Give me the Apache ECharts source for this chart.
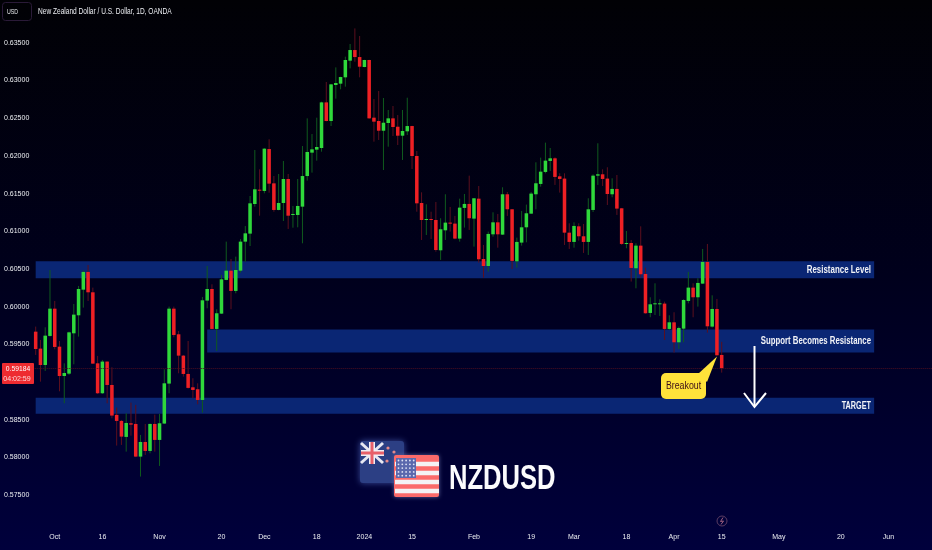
<!DOCTYPE html>
<html>
<head>
<meta charset="utf-8">
<title>NZDUSD</title>
<script src="https://cdn.jsdelivr.net/npm/echarts@6/dist/echarts.min.js"></script>
<style>
  html, body { margin: 0; padding: 0; background: #000; }
  #chart { width: 932px; height: 550px; }
</style>
</head>
<body>
<div id="chart"></div>
<script>
// open, close, low, high
var candles = [
  [.59669,.59439,.59360,.59736],[.59444,.59227,.59006,.59559],[.59227,.59616,.59148,.59727],[.59612,.59974,.59603,.60487],
  [.59974,.59466,.59435,.60076],[.5947,.59081,.58878,.59545],[.59081,.59121,.58719,.59249],[.59112,.5966,.59095,.59669],
  [.59647,.59895,.59236,.60036],[.59886,.60235,.59603,.60275],[.60226,.60461,.59988,.60478],[.60461,.60191,.60076,.60553],
  [.60191,.59245,.5924,.60253],[.59249,.58852,.58843,.59347],[.58852,.59272,.58843,.59294],[.59272,.58962,.58719,.59275],
  [.58962,.58556,.5852,.59197],[.58565,.58485,.58158,.58662],[.58485,.58277,.58167,.58498],[.58273,.58458,.58078,.58587],
  [.58454,.58436,.5829,.58728],[.58445,.58012,.58005,.58697],[.58012,.58206,.57747,.58299],[.58206,.58087,.58034,.58445],
  [.58087,.58445,.58056,.5845],[.58445,.58233,.58078,.58569],[.58233,.58454,.57888,.58578],[.5845,.58984,.58445,.5917],
  [.5898,.59974,.58852,.60001],[.59974,.59625,.59594,.60001],[.59634,.59351,.59117,.59678],[.59351,.59108,.59073,.5936],
  [.59108,.58923,.58914,.59545],[.58931,.58896,.58785,.59051],[.58905,.58763,.58706,.58984],[.58763,.60085,.58595,.60129],
  [.60081,.60235,.59979,.6054],[.60235,.59705,.597,.60297],[.59705,.59913,.59413,.59966],[.59908,.60363,.59903,.60421],
  [.60355,.60478,.6035,.60863],[.60478,.60209,.59966,.60633],[.60209,.60487,.60178,.60664],[.60478,.60863,.60452,.60898],
  [.60863,.60973,.60597,.6107],[.60969,.61371,.60805,.61468],[.61362,.61557,.61327,.62078],[.61552,.61539,.61207,.61822],
  [.61535,.62096,.61504,.62102],[.62091,.61632,.61512,.6222],[.61636,.61283,.6126,.61733],[.61283,.61375,.61278,.6176],
  [.61375,.61694,.61137,.61932],[.61694,.61207,.61031,.6176],[.61216,.6123,.61048,.61336],[.61216,.61336,.61053,.61694],
  [.61327,.61733,.60841,.62131],[.61733,.62052,.61672,.62498],[.62043,.62087,.61778,.6229],[.62083,.62118,.61937,.62507],
  [.62105,.6271,.62056,.62719],[.6271,.62463,.62458,.6298],[.62463,.62949,.62396,.62955],[.6294,.62967,.62759,.63174],
  [.62958,.63046,.62883,.6305],[.63042,.63272,.62918,.63316],[.63263,.63404,.63161,.63484],[.63404,.63311,.63249,.63691],
  [.63311,.63183,.63042,.6359],[.63179,.63272,.63175,.63275],[.63272,.62498,.62493,.63275],[.62507,.62454,.62189,.62754],
  [.62463,.62334,.62211,.62861],[.62334,.6244,.61813,.62768],[.62436,.62498,.62122,.62609],[.62498,.62383,.62264,.62662],
  [.62387,.62268,.62144,.62542],[.62268,.6233,.61946,.62609],[.62326,.62396,.62277,.62772],[.62396,.61999,.61826,.624],
  [.61999,.61371,.6126,.62065],[.61375,.6115,.60885,.61517],[.6115,.61163,.60951,.61358],[.61163,.6115,.60898,.6126],
  [.6115,.60752,.6073,.61389],[.60748,.61027,.6062,.61173],[.61013,.61115,.60885,.61491],[.61115,.61102,.60996,.61323],
  [.61102,.60903,.60894,.61204],[.60903,.61314,.60863,.61433],[.6131,.61363,.61049,.61495],[.61363,.61173,.61018,.61738],
  [.61168,.61438,.60797,.61442],[.61433,.60629,.60584,.61601],[.60633,.6054,.60386,.60819],[.6054,.60965,.60465,.60996],
  [.6096,.61119,.60929,.61252],[.61119,.6096,.60783,.6123],[.60956,.61491,.60951,.61584],[.61491,.61292,.61204,.61522],
  [.61292,.60607,.605,.61296],[.60602,.60859,.60518,.60916],[.6085,.61053,.6081,.6127],[.61053,.61239,.60854,.61354],
  [.61234,.615,.6123,.61522],[.61491,.61637,.61292,.61915],[.61628,.61791,.61592,.61977],[.61787,.61937,.61769,.62176],
  [.61933,.61968,.618,.62105],[.61968,.61721,.61615,.61981],[.61729,.61694,.61513,.61769],[.61699,.60982,.60819,.61769],
  [.60982,.60859,.60766,.61106],[.60859,.61071,.60783,.61119],[.61066,.60934,.60876,.61106],[.60934,.60859,.60713,.61097],
  [.60859,.61292,.60686,.61438],[.61283,.61738,.61256,.61756],[.61738,.61756,.61615,.62167],[.61756,.61694,.61601,.61822],
  [.61699,.61495,.61349,.61849],[.61491,.61562,.61451,.61703],[.61562,.61301,.61217,.61747],[.61305,.60832,.60819,.6131],
  [.60832,.60845,.60775,.61004],[.60845,.60514,.60333,.60885],[.6051,.6081,.60244,.60841],[.6081,.6043,.60386,.61066],
  [.60434,.59913,.59908,.60518],[.59917,.60032,.5986,.60125],[.60032,.60045,.5989,.6031],[.60032,.60045,.59877,.60098],
  [.60041,.59705,.59559,.60067],[.59705,.59793,.59692,.59886],[.59793,.59528,.59391,.59926],[.59528,.59718,.59439,.59736],
  [.59709,.60089,.59528,.60098],[.60076,.60253,.60045,.60461],[.60253,.60125,.5986,.6031],[.60125,.60315,.60001,.60377],
  [.60306,.60593,.60302,.60766],[.60593,.5974,.59656,.60832],[.59736,.5997,.59723,.60151],[.5997,.59356,.5935,.60103],
  [.5936,.59184,.59126,.59533]
];
var lastPrice = 0.59184;

// price zones: name, first candle date, top, bottom
var zoneNames = ['Resistance Level', 'Support Becomes Resistance', 'TARGET'];
var zoneStart = ['2023-09-26', '2023-11-15', '2023-09-26'];
var zoneEnd = '2024-05-29';
var zoneTop = [0.60604, 0.59698, 0.58793];
var zoneBottom = [0.60378, 0.59393, 0.58581];

var tickDates = ['2023-10-02', '2023-10-16', '2023-11-01', '2023-11-20', '2023-12-01', '2023-12-18', '2024-01-01', '2024-01-15', '2024-02-01',
  '2024-02-19', '2024-03-01', '2024-03-18', '2024-04-01', '2024-04-15', '2024-05-01', '2024-05-20', '2024-06-03'];
var tickTexts = ['Oct', '16', 'Nov', '20', 'Dec', '18', '2024', '15', 'Feb', '19', 'Mar', '18', 'Apr', '15', 'May', '20', 'Jun'];

// weekdays only, axis runs on past the last candle
var days = [];
for (var t = Date.UTC(2023, 8, 26); days.length < 189; t += 86400000) {
  var wd = new Date(t).getUTCDay();
  if (wd != 0 && wd != 6) days.push(new Date(t).toISOString().slice(0, 10));
}

var sans = '"Liberation Sans", sans-serif';
var GREEN = '#2fd83b', RED = '#ee2024', GREEN_WICK = '#0f5a1e', RED_WICK = '#5c0f1e';
var BAND = '#0a2674', LABEL = '#eceef2';

function drawCandle(params, api) {
  var i = api.value(0);
  var o = api.coord([i, api.value(1)]);
  var c = api.coord([i, api.value(2)]);
  var lo = api.coord([i, api.value(3)]);
  var hi = api.coord([i, api.value(4)]);
  var up = api.value(2) >= api.value(1);
  var w = api.size([1, 0])[0] * 0.74;
  var top = Math.min(o[1], c[1]);
  var h = Math.max(Math.abs(o[1] - c[1]), 1);
  return {
    type: 'group',
    children: [
      { type: 'line', shape: { x1: o[0], y1: hi[1], x2: o[0], y2: lo[1] }, style: { stroke: up ? GREEN_WICK : RED_WICK, lineWidth: 1 } },
      { type: 'rect', shape: { x: o[0] - w / 2, y: top, width: w, height: h }, style: { fill: up ? GREEN : RED } }
    ]
  };
}

var zoneAreas = zoneNames.map(function (name, i) {
  return [
    { xAxis: zoneStart[i], yAxis: zoneTop[i] },
    { xAxis: zoneEnd, yAxis: zoneBottom[i] }
  ];
});

// the original uses a condensed face, none is installed so squeeze the text instead
function narrowText(x, y, text, size, squeeze, align, color, weight) {
  return {
    type: 'text', x: x, y: y, scaleX: squeeze, z: 24,
    style: { x: 0, y: 0, text: text, fill: color, align: align, verticalAlign: 'middle', font: (weight || 'normal') + ' ' + size + 'px ' + sans }
  };
}

// flags are decoration, not data
function flagGraphics() {
  var els = [];
  els.push({ type: 'rect', shape: { x: 360, y: 441, width: 44, height: 42, r: 3 }, style: { fill: '#2c3f84', shadowBlur: 6, shadowColor: '#3a4c99' }, z: 20 });
  els.push({ type: 'polyline', shape: { points: [[361, 443], [383, 463]] }, style: { stroke: '#e8e8f2', lineWidth: 3 }, z: 20 });
  els.push({ type: 'polyline', shape: { points: [[383, 443], [361, 463]] }, style: { stroke: '#e8e8f2', lineWidth: 3 }, z: 20 });
  els.push({ type: 'rect', shape: { x: 369, y: 442, width: 6, height: 22 }, style: { fill: '#f0eef4' }, z: 20 });
  els.push({ type: 'rect', shape: { x: 361, y: 450, width: 23, height: 6 }, style: { fill: '#f0eef4' }, z: 20 });
  els.push({ type: 'rect', shape: { x: 370.5, y: 442, width: 3, height: 22 }, style: { fill: '#e8606a' }, z: 20 });
  els.push({ type: 'rect', shape: { x: 361, y: 451.5, width: 23, height: 3 }, style: { fill: '#e8606a' }, z: 20 });
  [[394, 452], [387, 461], [388, 448]].forEach(function (p) {
    els.push({ type: 'circle', shape: { cx: p[0], cy: p[1], r: 1.6 }, style: { fill: '#e88a8a' }, z: 20 });
  });
  els.push({ type: 'rect', shape: { x: 394, y: 455, width: 45, height: 42, r: 2 }, style: { fill: '#fb6a6a', shadowBlur: 4, shadowColor: '#5a5f96' }, z: 21 });
  for (var k = 0; k < 4; k++) {
    els.push({ type: 'rect', shape: { x: 395, y: 461.7 + k * 9, width: 44, height: 4.6 }, style: { fill: '#f4f2f4' }, z: 21 });
  }
  els.push({ type: 'rect', shape: { x: 396, y: 458, width: 20, height: 20 }, style: { fill: '#5b68ad' }, z: 22 });
  for (var a = 0; a < 5; a++) {
    for (var b = 0; b < 5; b++) {
      els.push({ type: 'circle', shape: { cx: 398.5 + b * 3.8, cy: 460.5 + a * 3.8, r: 0.9 }, style: { fill: '#dfe2f4' }, z: 22 });
    }
  }
  return els;
}

var chart = echarts.init(document.getElementById('chart'));
chart.setOption({
  animation: false,
  backgroundColor: {
    type: 'linear', x: 0, y: 0, x2: 0, y2: 1,
    colorStops: [{ offset: 0, color: '#010105' }, { offset: 0.5, color: '#00001c' }, { offset: 1, color: '#00003c' }]
  },
  grid: { left: 33.3, top: 5.1, width: 900.4, height: 527.8, outerBoundsMode: 'none' },
  xAxis: {
    type: 'category',
    data: days,
    axisLine: { show: false },
    axisTick: { show: false },
    splitLine: { show: false },
    axisLabel: {
      interval: function (i, v) { return tickDates.indexOf(v) >= 0; },
      formatter: function (v) { return tickTexts[tickDates.indexOf(v)]; },
      color: LABEL, fontFamily: sans, fontSize: 7, margin: 1
    }
  },
  yAxis: {
    type: 'value',
    min: 0.57, max: 0.64, interval: 0.005,
    axisLine: { show: false },
    axisTick: { show: false },
    splitLine: { show: false },
    axisLabel: {
      showMinLabel: false, showMaxLabel: false,
      formatter: function (v) { return v.toFixed(5); },
      color: LABEL, fontFamily: sans, fontSize: 7, margin: 4
    }
  },
  series: [
    {
      type: 'line',
      data: [],
      silent: true,
      z: 1,
      markArea: { silent: true, itemStyle: { color: BAND }, data: zoneAreas },
      markLine: {
        silent: true,
        symbol: 'none',
        precision: 5,
        label: { show: false },
        lineStyle: { color: '#4a0e20', type: 'dotted', width: 1 },
        data: [{ yAxis: lastPrice }]
      }
    },
    {
      type: 'custom',
      z: 3,
      silent: true,
      clip: false,
      renderItem: drawCandle,
      encode: { x: 0, y: [1, 2, 3, 4] },
      data: candles.map(function (c, i) { return [i].concat(c); })
    }
  ],
  graphic: [
    { type: 'rect', shape: { x: 2.5, y: 2.5, width: 29, height: 18, r: 3 }, style: { fill: 'transparent', stroke: '#2a1a38', lineWidth: 1 }, z: 10 },
    narrowText(7, 11.5, 'USD', 8, 0.65, 'left', LABEL),
    narrowText(38, 11.5, 'New Zealand Dollar / U.S. Dollar, 1D, OANDA', 9, 0.73, 'left', LABEL),

    { type: 'rect', shape: { x: 2, y: 363, width: 32, height: 21, r: 1 }, style: { fill: '#ee2b30' }, z: 10 },
    narrowText(18, 369, '0.59184', 8, 0.84, 'center', '#ffffff'),
    narrowText(17, 378.5, '04:02:59', 8, 0.88, 'center', '#fbd9da'),

    { type: 'polygon', shape: { points: [[698, 374], [707, 382], [717, 356.5]] }, style: { fill: '#ffe23a' }, z: 10 },
    { type: 'rect', shape: { x: 661, y: 373, width: 45, height: 26, r: 5 }, style: { fill: '#ffe23a' }, z: 10 },
    narrowText(683.5, 386, 'Breakout', 11, 0.8, 'center', '#3a0c18'),

    { type: 'polyline', shape: { points: [[754.5, 346], [754.5, 406]] }, style: { stroke: '#fff', lineWidth: 2 }, z: 10 },
    { type: 'polyline', shape: { points: [[744, 393], [754.5, 407], [766, 393]] }, style: { stroke: '#fff', lineWidth: 2, fill: 'transparent' }, z: 10 },

    narrowText(871, 270, zoneNames[0], 11, 0.72, 'right', '#f2f3f7', 'bold'),
    narrowText(871, 341, zoneNames[1], 11, 0.71, 'right', '#f2f3f7', 'bold'),
    narrowText(871, 405.5, zoneNames[2], 11, 0.66, 'right', '#f2f3f7', 'bold'),

    { type: 'circle', shape: { cx: 722, cy: 521, r: 5 }, style: { fill: 'transparent', stroke: '#5a3c62', lineWidth: 1 }, z: 10 },
    { type: 'polyline', shape: { points: [[723, 517.5], [720.5, 521.5], [723.5, 521], [721, 524.5]] }, style: { stroke: '#a06080', lineWidth: 1, fill: 'transparent' }, z: 10 },

    narrowText(449, 479, 'NZDUSD', 35, 0.73, 'left', '#fbfbfd', 'bold')
  ].concat(flagGraphics())
});
</script>
</body>
</html>
